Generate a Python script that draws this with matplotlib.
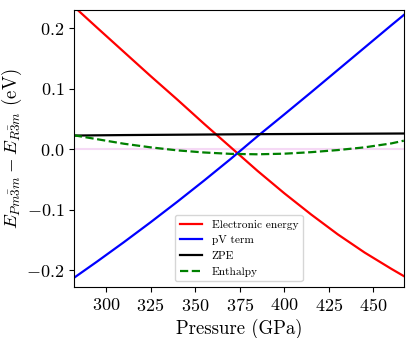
import numpy as np
import matplotlib
matplotlib.use("Agg")
import matplotlib.pyplot as plt

plt.rcParams['font.family'] = 'cmr10'
plt.rcParams['mathtext.fontset'] = 'cm'
plt.rcParams['axes.formatter.use_mathtext'] = True
plt.rcParams['axes.unicode_minus'] = True

# values
pressure = [282, 295, 310, 325, 340, 355, 370, 385, 400, 415, 430, 445, 460, 467]
electronic = [0.236, 0.201, 0.161, 0.121, 0.082, 0.042, 0.003, -0.036, -0.073,
              -0.108, -0.141, -0.171, -0.198, -0.210]
pv_term = [-0.213, -0.186, -0.154, -0.121, -0.087, -0.052, -0.016, 0.0214, 0.0575,
           0.094, 0.131, 0.168, 0.205, 0.222]
zpe = [0.0225, 0.0229, 0.0233, 0.0236, 0.0239, 0.0242, 0.0245, 0.0248, 0.0250,
       0.0252, 0.0254, 0.0256, 0.0258, 0.0259]
enthalpy = [0.023, 0.0165, 0.009, 0.003, -0.002, -0.0055, -0.0078, -0.0085, -0.0075,
            -0.005, -0.0015, 0.003, 0.0095, 0.014]

fig = plt.figure(figsize=(4.15, 3.38), dpi=100)
ax = fig.add_axes([0.178, 0.151, 0.795, 0.819])

ax.axhline(0, color='m', alpha=0.15, lw=1.5)
ax.plot(pressure, electronic, color='red', lw=1.6, label='Electronic energy')
ax.plot(pressure, pv_term, color='blue', lw=1.6, label='pV term')
ax.plot(pressure, zpe, color='black', lw=1.6, label='ZPE')
ax.plot(pressure, enthalpy, color='green', lw=1.6, ls='--', label='Enthalpy')

ax.set_xlim(282, 467)
ax.set_ylim(-0.228, 0.230)
ax.set_xticks([300, 325, 350, 375, 400, 425, 450])
ax.set_yticks([-0.2, -0.1, 0.0, 0.1, 0.2])
ax.tick_params(labelsize=13)
ax.set_xlabel('Pressure (GPa)', fontsize=13.5)
ax.set_ylabel(r'$E_{Pm\bar{3}m} - E_{R\bar{3}m}$ (eV)', fontsize=13.5)
ax.yaxis.set_label_coords(-0.15, 0.5)
ax.legend(loc='lower center', fontsize=8.2)

fig.savefig('out.png', dpi=100)
